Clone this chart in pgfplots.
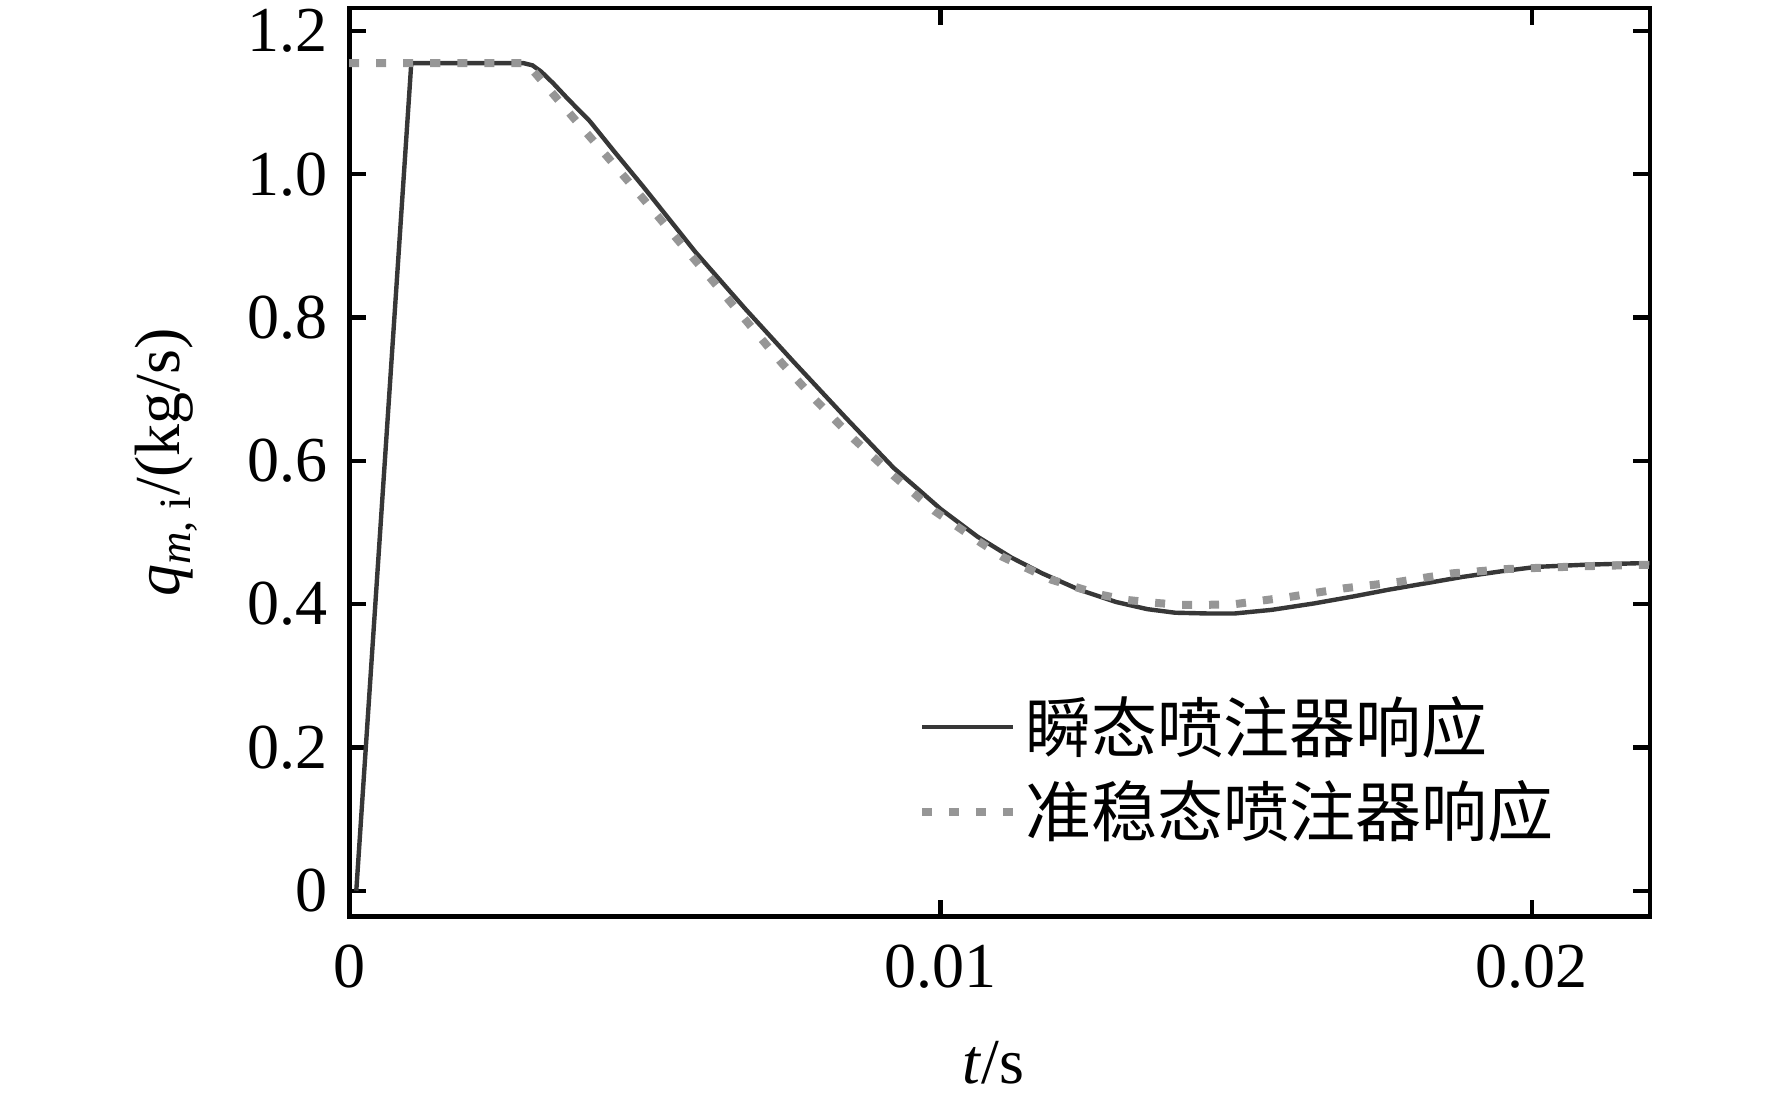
\documentclass[border=0pt]{standalone}
\usepackage{fontspec}
\setmainfont{Liberation Serif}
\newfontfamily\cjk{Noto Sans CJK SC}
\usepackage{pgfplots}
\pgfplotsset{compat=1.18}
\definecolor{solidc}{RGB}{55,55,55}
\definecolor{dotc}{RGB}{150,150,150}

\pgfplotstableread{
t q
0.00012 0.000
0.00105 1.155
0.00295 1.155
0.00310 1.152
0.00325 1.143
0.00345 1.127
0.00370 1.105
0.00407 1.074
0.00450 1.030
0.00497 0.983
0.00586 0.891
0.00670 0.812
0.00753 0.737
0.00840 0.660
0.00921 0.590
0.00960 0.562
0.01000 0.533
0.01063 0.494
0.01120 0.465
0.01172 0.443
0.01235 0.420
0.01297 0.403
0.01350 0.393
0.01397 0.388
0.01450 0.387
0.01498 0.387
0.01560 0.392
0.01632 0.401
0.01700 0.411
0.01757 0.420
0.01820 0.429
0.01883 0.438
0.01950 0.446
0.02008 0.452
0.02090 0.455
0.02176 0.457
0.02200 0.457
}\transient

\pgfplotstableread{
t q
0.00000 1.155
0.00300 1.155
0.00321 1.135
0.00379 1.079
0.00438 1.023
0.00497 0.966
0.00555 0.909
0.00614 0.852
0.00672 0.795
0.00731 0.737
0.00791 0.683
0.00854 0.630
0.00921 0.579
0.00990 0.530
0.01029 0.508
0.01066 0.487
0.01105 0.466
0.01188 0.434
0.01272 0.413
0.01314 0.406
0.01360 0.402
0.01406 0.399
0.01450 0.399
0.01498 0.400
0.01590 0.410
0.01682 0.422
0.01774 0.431
0.01866 0.443
0.01958 0.449
0.02092 0.453
0.02200 0.455
}\quasisteady

\begin{document}
\begin{tikzpicture}
\begin{axis}[
  scale only axis,
  width=325pt, height=227pt,
  xmin=0, xmax=0.022, ymin=-0.036, ymax=1.232,
  xtick={0,0.01,0.02}, xticklabels={0,0.01,0.02},
  ytick={0,0.2,0.4,0.6,0.8,1.0,1.2},
  yticklabels={0,0.2,0.4,0.6,0.8,1.0,1.2},
  scaled x ticks=false, scaled y ticks=false,
  /pgf/number format/assume math mode=true,
  tick align=inside,
  major tick length=4.2pt,
  tick style={black, line width=1.1pt},
  axis line style={line width=1.2pt},
  tick label style={font=\fontsize{16}{19}\selectfont},
  xticklabel style={yshift=-3.5pt},
  yticklabel style={xshift=-2pt},
  label style={font=\fontsize{16}{19}\selectfont},
  xlabel={\textit{t}/s},
  ylabel={\textit{q}\textsubscript{\textit{m}, i}/(kg/s)},
  xlabel style={at={(axis description cs:0.495,-0.161)}, anchor=center},
  ylabel style={at={(axis description cs:-0.1408,0.5)}, anchor=center},
  legend style={at={(axis description cs:0.437,0.162)}, anchor=west,
    draw=none, fill=none, inner sep=0pt, row sep=1.6pt,
    font=\cjk\fontsize{16.5}{19}\selectfont},
  legend cell align=left,
  legend image code/.code={\draw[#1] (0pt,0pt) -- (22.75pt,0pt);},
]
\addplot[solidc, line width=1.1pt] table[x=t,y=q]{\transient};
\addlegendentry{瞬态喷注器响应}
\addplot[dotc, line width=2pt, dash pattern=on 2.5pt off 4.25pt] table[x=t,y=q]{\quasisteady};
\addlegendentry{准稳态喷注器响应}
\end{axis}
\pgfresetboundingbox
\path ([shift={(-87.25pt,-47pt)}]current axis.south west) rectangle ([shift={(30.5pt,2pt)}]current axis.north east);
\end{tikzpicture}
\end{document}
